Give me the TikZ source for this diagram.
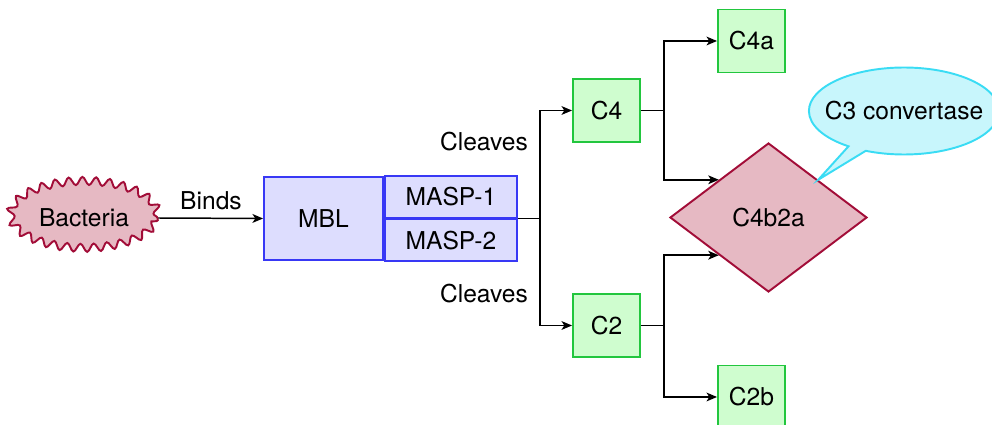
\documentclass[tikz,border=0pt]{standalone}
\usepackage{fontspec}
\setmainfont{TeX Gyre Heros}
\usetikzlibrary{arrows.meta,shapes.geometric,shapes.callouts,decorations.pathmorphing}

\definecolor{bred}{HTML}{A20D38}
\definecolor{bpink}{HTML}{E6B9C3}
\definecolor{mblue}{HTML}{3838F5}
\definecolor{mbluefill}{HTML}{DDDDFE}
\definecolor{cgreen}{HTML}{22C63E}
\definecolor{cgreenfill}{HTML}{CFFDCF}
\definecolor{ccyan}{HTML}{3ADCF4}
\definecolor{ccyanfill}{HTML}{C8F6FC}

\begin{document}
\begin{tikzpicture}[x=0.02cm,y=-0.02cm,
  font=\fontsize{14}{17}\selectfont,
  line/.style={draw=black,line width=0.85pt},
  arr/.style={line,-{Stealth[length=6pt,width=5pt,inset=1.6pt]}},
  mbox/.style={draw=mblue,fill=mbluefill,line width=1.1pt,inner sep=0pt},
  cbox/.style={draw=cgreen,fill=cgreenfill,line width=1.1pt,minimum width=1.34cm,minimum height=1.26cm}]
  \useasboundingbox (0,0) rectangle (992,425);
  \clip (0,0) rectangle (992,425);
  % binding
  \node[ellipse,draw=bred,fill=bpink,line width=1.1pt,minimum width=2.94cm,minimum height=1.34cm,
    decorate,decoration={snake,segment length=0.27cm,amplitude=0.08cm}] (bacteria) at (84,218) {Bacteria};
  \node[mbox,minimum width=2.38cm,minimum height=1.66cm] (mbl) at (323.5,218.5) {MBL};
  \node[mbox,minimum width=2.64cm,minimum height=0.83cm,anchor=south west] (masp1) at (mbl.east) {MASP-1};
  \node[mbox,minimum width=2.64cm,minimum height=0.83cm,anchor=north west] (masp2) at (mbl.east) {MASP-2};
  \draw[arr] (bacteria.east) -- (mbl.west);
  \node (binds) at (211,201) {Binds};
  % cleavage
  \node[cbox] (c4) at (606.5,110.5) {C4};
  \node[cbox] (c2) at (606.5,325.5) {C2};
  \node[cbox] (c4a) at (751.5,41) {C4a};
  \node[cbox] (c2b) at (751.5,397) {C2b};
  \node[diamond,draw=bred,fill=bpink,line width=1.1pt,inner sep=0pt,minimum width=3.94cm,minimum height=2.98cm] (c4b2a) at (768.5,217.5) {C4b2a};
  \draw[line] (masp1.south east) -- ++(22,0) coordinate (j1);
  \draw[arr] (j1) |- (c4.west);
  \draw[arr] (j1) |- (c2.west);
  \node (cleaves1) at (484,142) {Cleaves};
  \node (cleaves2) at (484,294) {Cleaves};
  \draw[line] (c4.east) -- ++(23,0) coordinate (j2);
  \draw[arr] (j2) |- (c4a.west);
  \draw[arr] (j2) |- (c4b2a.north west);
  \draw[line] (c2.east) -- ++(23,0) coordinate (j3);
  \draw[arr] (j3) |- (c4b2a.south west);
  \draw[arr] (j3) |- (c2b.west);
  % product
  \node[ellipse callout,draw=ccyan,fill=ccyanfill,line width=1.1pt,inner xsep=-0.24cm,inner ysep=0pt,
    minimum height=1.74cm,callout pointer arc=12,
    callout absolute pointer={(c4b2a.north east)}] (conv) at (904,111) {C3 convertase};
\end{tikzpicture}
\end{document}
